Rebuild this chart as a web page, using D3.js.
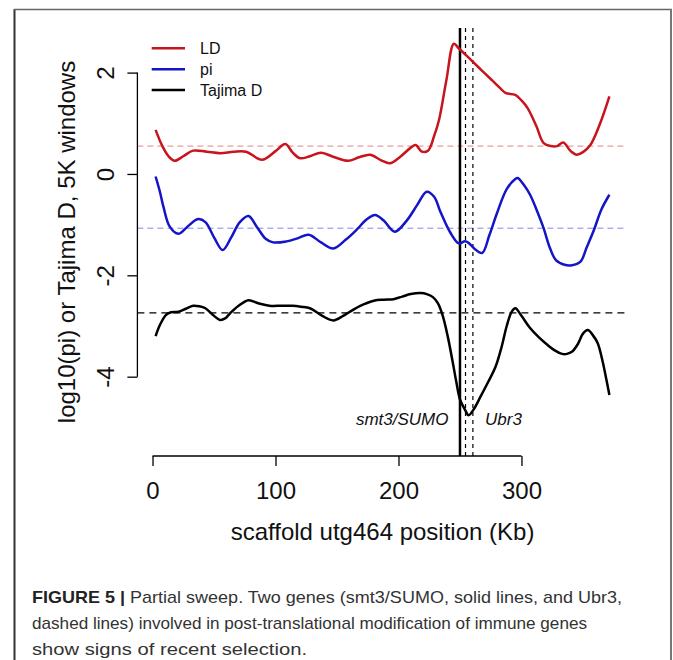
<!DOCTYPE html>
<html>
<head>
<meta charset="utf-8">
<script src="https://cdn.jsdelivr.net/npm/d3@7"></script>
<style>
  html, body { margin: 0; padding: 0; background: #fff; }
  svg { display: block; font-family: "Liberation Sans", Arial, Helvetica, sans-serif; }
</style>
</head>
<body>
<svg id="chart" width="673" height="660"></svg>
<script>
// ---------------- DATA ----------------
const seriesNames = ["LD", "pi", "Tajima D"];
const seriesColors = ["#c8141c", "#1414c8", "#000000"];

// position (Kb), value
const ldPos  = [2.5, 8, 13, 18, 25, 33, 44, 55, 66, 76, 89, 100, 108, 114, 120, 128, 137, 148, 159, 168, 177, 186, 193, 201, 210, 214, 219, 224, 229, 233, 239, 245, 249, 256, 264, 270, 276, 282, 287, 295, 300, 305, 312, 318, 324, 329, 334, 340, 345, 350, 356, 364, 371.5];
const ldVal  = [0.87, 0.55, 0.35, 0.26, 0.35, 0.46, 0.44, 0.41, 0.44, 0.44, 0.28, 0.45, 0.59, 0.42, 0.31, 0.35, 0.42, 0.33, 0.26, 0.33, 0.38, 0.27, 0.21, 0.33, 0.52, 0.57, 0.44, 0.46, 0.75, 1.07, 1.86, 2.57, 2.48, 2.32, 2.13, 1.99, 1.85, 1.71, 1.60, 1.56, 1.45, 1.30, 0.95, 0.61, 0.55, 0.55, 0.62, 0.45, 0.38, 0.43, 0.57, 1.00, 1.53];

const piPos  = [2.5, 6, 9, 14, 21, 28, 37, 43, 50, 57, 64, 71, 78, 85, 92, 98, 109, 118, 127, 137, 147, 157, 166, 174, 181, 188, 197, 207, 215, 223, 229, 234, 242, 249, 254, 257, 262, 268, 274, 280, 288, 295, 297, 302, 307, 313, 318, 323, 328, 335, 341, 348, 353, 359, 365, 371.5];
const piVal  = [-0.05, -0.35, -0.66, -1.04, -1.18, -1.05, -0.89, -0.95, -1.25, -1.50, -1.25, -0.95, -0.83, -1.05, -1.28, -1.35, -1.33, -1.27, -1.20, -1.35, -1.47, -1.30, -1.10, -0.90, -0.81, -0.92, -1.14, -0.91, -0.62, -0.35, -0.45, -0.74, -1.15, -1.37, -1.33, -1.36, -1.48, -1.56, -1.20, -0.78, -0.30, -0.10, -0.08, -0.22, -0.41, -0.75, -1.07, -1.45, -1.70, -1.79, -1.80, -1.73, -1.45, -1.10, -0.70, -0.41];

const tdPos  = [2.5, 6, 11, 15, 21, 27, 33, 38, 43, 49, 55, 59, 63, 70, 78, 86, 95, 105, 114, 121, 128, 138, 147, 155, 163, 172, 180, 188, 196, 203, 210, 218, 223, 228, 232, 236, 240, 244, 247, 250, 254, 257, 261, 267, 273, 279, 284, 288, 292, 295, 300, 307, 314, 321, 327, 333, 337, 341, 346, 350, 354, 358, 362, 366, 369, 371.5];
const tdVal  = [-3.20, -2.98, -2.78, -2.73, -2.72, -2.66, -2.60, -2.61, -2.65, -2.78, -2.88, -2.85, -2.75, -2.60, -2.49, -2.55, -2.60, -2.60, -2.60, -2.62, -2.65, -2.80, -2.89, -2.80, -2.68, -2.57, -2.50, -2.48, -2.47, -2.42, -2.37, -2.35, -2.37, -2.43, -2.55, -2.80, -3.20, -3.70, -4.10, -4.45, -4.65, -4.76, -4.65, -4.38, -4.10, -3.80, -3.40, -3.00, -2.72, -2.65, -2.80, -3.04, -3.22, -3.37, -3.48, -3.55, -3.55, -3.51, -3.35, -3.15, -3.08, -3.18, -3.34, -3.70, -4.05, -4.36];

// genome-wide reference (mean) levels for LD, pi, Tajima D
const meanValues = [0.55, -1.07, -2.74];

// gene positions (Kb)
const geneNames = ["smt3/SUMO", "Ubr3"];
const smtPos = 250;
const ubrPos = [254.5, 260.5];

const xTicks = [0, 100, 200, 300];
const yTicks = [-4, -2, 0, 2];

const xLabel = "scaffold utg464 position (Kb)";
const yLabel = "log10(pi) or Tajima D, 5K windows";
const captionBold = "FIGURE 5 |";
const captionLines = [
  " Partial sweep. Two genes (smt3/SUMO, solid lines, and Ubr3,",
  "dashed lines) involved in post-translational modification of immune genes",
  "show signs of recent selection."
];

// ---------------- DRAW ----------------
const svg = d3.select("#chart");
const font = '"Liberation Sans", Arial, Helvetica, sans-serif';

// frame
svg.append("line").attr("x1", 14.5).attr("x2", 14.5).attr("y1", 9).attr("y2", 660)
  .attr("stroke", "#333").attr("stroke-width", 2);
svg.append("line").attr("x1", 14).attr("x2", 672).attr("y1", 9.5).attr("y2", 9.5)
  .attr("stroke", "#666").attr("stroke-width", 1.5);
svg.append("line").attr("x1", 671).attr("x2", 671).attr("y1", 9).attr("y2", 660)
  .attr("stroke", "#777").attr("stroke-width", 2);

const x = d3.scaleLinear().domain([-12.3, 386.3]).range([137.4, 627.6]);
const y = d3.scaleLinear().domain([-5.565, 2.88]).range([456, 28]);
const [px0, px1] = x.range();
const [py0, py1] = y.range();

const plot = svg.append("g");
plot.append("clipPath").attr("id", "clip").append("rect")
  .attr("x", px0).attr("y", py1).attr("width", px1 - px0).attr("height", py0 - py1);
const inner = plot.append("g").attr("clip-path", "url(#clip)");

// reference horizontal dashed lines
const refStyles = [
  { color: "#e08585", w: 1, dash: "6,4" },
  { color: "#8585e8", w: 1, dash: "6,4" },
  { color: "#000", w: 1.4, dash: "7,5" }
];
meanValues.forEach((v, i) => {
  inner.append("line")
    .attr("x1", px0).attr("x2", px1).attr("y1", y(v)).attr("y2", y(v))
    .attr("stroke", refStyles[i].color).attr("stroke-width", refStyles[i].w)
    .attr("stroke-dasharray", refStyles[i].dash);
});

// gene lines
inner.append("line").attr("x1", x(smtPos)).attr("x2", x(smtPos)).attr("y1", py1).attr("y2", py0)
  .attr("stroke", "#000").attr("stroke-width", 2.5);
ubrPos.forEach(p => {
  inner.append("line").attr("x1", x(p)).attr("x2", x(p)).attr("y1", py1).attr("y2", py0)
    .attr("stroke", "#000").attr("stroke-width", 1.2).attr("stroke-dasharray", "4,4");
});

// curves
const line = d3.line().x(d => x(d[0])).y(d => y(d[1])).curve(d3.curveCatmullRom.alpha(0.5));
const series = [
  d3.zip(ldPos, ldVal),
  d3.zip(piPos, piVal),
  d3.zip(tdPos, tdVal)
];
series.forEach((s, i) => {
  inner.append("path").datum(s).attr("d", line)
    .attr("fill", "none").attr("stroke", seriesColors[i]).attr("stroke-width", 2.5)
    .attr("stroke-linejoin", "round");
});

// gene labels
svg.append("text").attr("x", 448.5).attr("y", 425).attr("text-anchor", "end")
  .attr("font-size", 17).attr("font-style", "italic").attr("fill", "#111").text(geneNames[0]);
svg.append("text").attr("x", 485).attr("y", 425).attr("text-anchor", "start")
  .attr("font-size", 17).attr("font-style", "italic").attr("fill", "#111").text(geneNames[1]);

// x axis
const gx = svg.append("g").attr("transform", `translate(0,${py0})`)
  .call(d3.axisBottom(x).tickValues(xTicks).tickFormat(d => String(d)).tickSize(10).tickPadding(16));
gx.select(".domain").remove();
gx.append("line").attr("x1", x(xTicks[0])).attr("x2", x(xTicks[xTicks.length - 1]))
  .attr("y1", 0).attr("y2", 0).attr("stroke", "#000").attr("stroke-width", 1.3);
gx.selectAll(".tick line").attr("stroke", "#000").attr("stroke-width", 1.3);
gx.selectAll(".tick text").attr("font-size", 24).attr("font-family", font).attr("fill", "#111");

// y axis
const gy = svg.append("g").attr("transform", `translate(${px0},0)`)
  .call(d3.axisLeft(y).tickValues(yTicks).tickFormat(d => String(d)).tickSize(10));
gy.select(".domain").remove();
gy.append("line").attr("x1", 0).attr("x2", 0).attr("y1", y(yTicks[0])).attr("y2", y(yTicks[yTicks.length - 1]))
  .attr("stroke", "#000").attr("stroke-width", 1.3);
gy.selectAll(".tick line").attr("stroke", "#000").attr("stroke-width", 1.3);
gy.selectAll(".tick text")
  .attr("x", null).attr("dy", null).attr("y", null)
  .attr("transform", "translate(-23.4,0) rotate(-90)")
  .attr("text-anchor", "middle")
  .attr("font-size", 24).attr("font-family", font).attr("fill", "#111");

// axis titles
svg.append("text").attr("x", (px0 + px1) / 2).attr("y", 540).attr("text-anchor", "middle")
  .attr("font-size", 24).attr("fill", "#111").text(xLabel);
svg.append("text").attr("transform", `translate(75,${(py0 + py1) / 2}) rotate(-90)`)
  .attr("text-anchor", "middle").attr("font-size", 24).attr("fill", "#111").text(yLabel);

// legend
const legY = [48.3, 69.3, 90];
seriesNames.forEach((n, i) => {
  svg.append("line").attr("x1", 151.7).attr("x2", 185).attr("y1", legY[i]).attr("y2", legY[i])
    .attr("stroke", seriesColors[i]).attr("stroke-width", 2.5);
  svg.append("text").attr("x", 200).attr("y", legY[i]).attr("dy", "0.36em")
    .attr("font-size", 16).attr("fill", "#111").text(n);
});

// caption
const capY = [603, 629, 655];
const capW = [590, 555, 275];
captionLines.forEach((t, i) => {
  const tx = svg.append("text").attr("x", 32).attr("y", capY[i])
    .attr("font-size", 17).attr("fill", "#333")
    .attr("textLength", capW[i]).attr("lengthAdjust", "spacingAndGlyphs");
  if (i === 0) tx.append("tspan").attr("font-weight", "bold").attr("fill", "#222").text(captionBold);
  tx.append("tspan").text(t);
});
</script>
</body>
</html>
